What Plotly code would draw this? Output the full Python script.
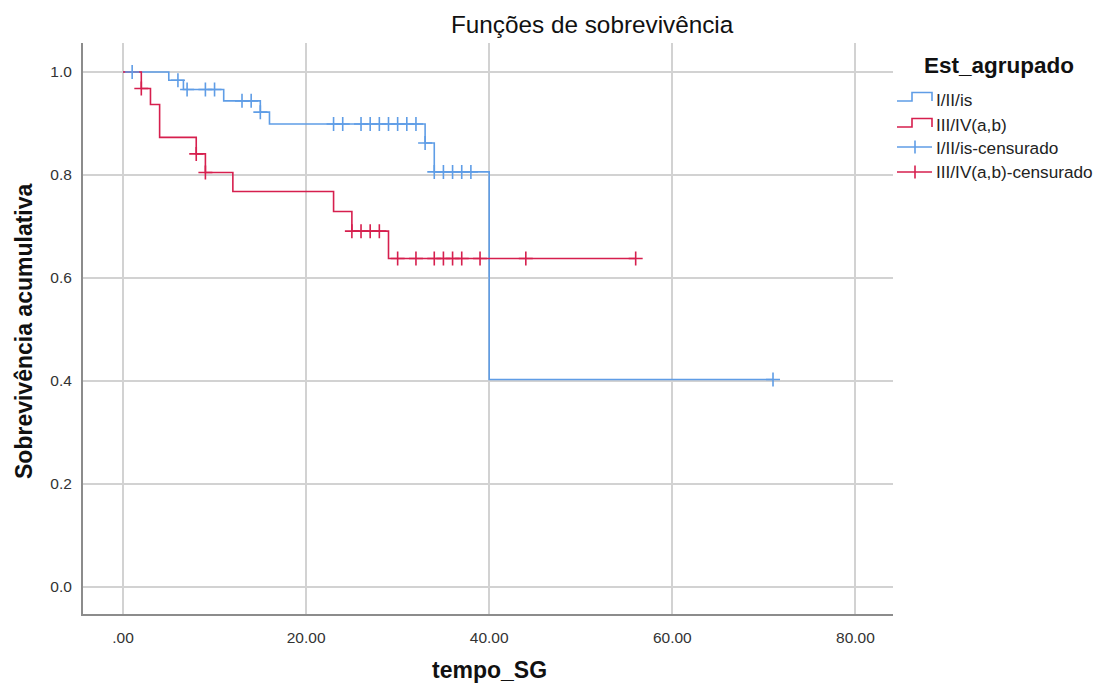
import plotly.graph_objects as go

# ---- data ----
# Group I/II/is : event times (step points) and survival after each step
blue_step_times = [0, 5, 6.6, 11, 15, 16, 33, 34, 40]
blue_surv = [1.0, 0.984, 0.966, 0.944, 0.922, 0.899, 0.862, 0.806, 0.403]
blue_end = 71
blue_censored = [1, 6, 7, 9, 10, 13, 14, 15, 23, 24, 26, 27, 28, 29, 30, 31, 32,
                 33, 34, 35, 36, 37, 38, 71]

# Group III/IV(a,b)
red_step_times = [0, 2, 3, 4, 8, 9, 12, 23, 25, 29]
red_surv = [1.0, 0.968, 0.937, 0.873, 0.841, 0.805, 0.768, 0.729, 0.691, 0.638]
red_end = 56
red_censored = [2, 8, 9, 25, 26, 27, 28, 30, 32, 34, 35, 36, 37, 39, 44, 56]

x_ticks = [0, 20, 40, 60, 80]
x_ticklabels = [".00", "20.00", "40.00", "60.00", "80.00"]
y_ticks = [0.0, 0.2, 0.4, 0.6, 0.8, 1.0]
y_ticklabels = ["0.0", "0.2", "0.4", "0.6", "0.8", "1.0"]

group_names = ["I/II/is", "III/IV(a,b)"]
legend_labels = ["I/II/is", "III/IV(a,b)", "I/II/is-censurado", "III/IV(a,b)-censurado"]

BLUE = "#5f9de6"
RED = "#d61f4e"
FONT = "Liberation Sans, Arial, sans-serif"

# ---- layout geometry (page pixels; body margin is removed below) ----
W, H = 1105, 688
L, R, T, B = 83, 893, 43, 614   # plot area in page pixels


def px(x):
    return (x - L) / (R - L)


def py(y):
    return (B - y) / (B - T)


def level_at(times, surv, t):
    v = surv[0]
    for tt, s in zip(times, surv):
        if tt <= t:
            v = s
    return v


fig = go.Figure()

for times, surv, end, color, name in [
    (blue_step_times, blue_surv, blue_end, BLUE, group_names[0]),
    (red_step_times, red_surv, red_end, RED, group_names[1]),
]:
    fig.add_trace(go.Scatter(
        x=list(times) + [end], y=list(surv) + [surv[-1]],
        mode="lines", line=dict(shape="hv", color=color, width=1.6),
        name=name, showlegend=False, hoverinfo="skip"))

for times, surv, cens, color, name in [
    (blue_step_times, blue_surv, blue_censored, BLUE, group_names[0] + "-censurado"),
    (red_step_times, red_surv, red_censored, RED, group_names[1] + "-censurado"),
]:
    fig.add_trace(go.Scatter(
        x=cens, y=[level_at(times, surv, t) for t in cens],
        mode="markers",
        marker=dict(symbol="cross-thin", size=10, color=color,
                    line=dict(color=color, width=1.6)),
        name=name, showlegend=False, hoverinfo="skip"))

# ---- custom legend (step icons + crosses) ----
shapes = []
annotations = []
leg_x0, leg_xm, leg_x1 = 897, 912, 932
icon_rows = [(101, 92.5, BLUE), (127, 118.5, RED)]
for (ylow, yhigh, color) in icon_rows:
    path = "M {a},{b} L {c},{b} L {c},{d} L {e},{d} L {e},{b}".format(
        a=px(leg_x0), b=py(ylow), c=px(leg_xm), d=py(yhigh), e=px(leg_x1))
    shapes.append(dict(type="path", xref="paper", yref="paper", path=path,
                       line=dict(color=color, width=1.6)))
for (yc, color) in [(147, BLUE), (172, RED)]:
    shapes.append(dict(type="line", xref="paper", yref="paper",
                       x0=px(leg_x0), x1=px(leg_x1), y0=py(yc), y1=py(yc),
                       line=dict(color=color, width=1.6)))
    shapes.append(dict(type="line", xref="paper", yref="paper",
                       x0=px(915), x1=px(915), y0=py(yc - 6.5), y1=py(yc + 6.5),
                       line=dict(color=color, width=1.6)))

for label, yc in zip(legend_labels, [100, 125, 148, 172]):
    annotations.append(dict(text=label, xref="paper", yref="paper",
                            x=px(934), y=py(yc), xanchor="left", yanchor="middle",
                            showarrow=False,
                            font=dict(family=FONT, size=17.2, color="#222222")))

annotations.append(dict(text="<b>Est_agrupado</b>", xref="paper", yref="paper",
                        x=px(999), y=py(65), xanchor="center", yanchor="middle",
                        showarrow=False, font=dict(family=FONT, size=22.5, color="#111111")))

# titles
annotations.append(dict(text="Funções de sobrevivência", xref="paper", yref="paper",
                        x=px(592), y=py(25), xanchor="center", yanchor="middle",
                        showarrow=False, font=dict(family=FONT, size=24.3, color="#111111")))
annotations.append(dict(text="<b>tempo_SG</b>", xref="paper", yref="paper",
                        x=px(489), y=py(670), xanchor="center", yanchor="middle",
                        showarrow=False, font=dict(family=FONT, size=23, color="#111111")))
annotations.append(dict(text="<b>Sobrevivência acumulativa</b>", xref="paper", yref="paper",
                        x=px(24), y=py(331), xanchor="center", yanchor="middle",
                        textangle=-90,
                        showarrow=False, font=dict(family=FONT, size=23, color="#111111")))

x_min = (L - 123) / 9.155
x_max = (R - 123) / 9.155
y_max = 1.0 + (72 - T) / 515.0
y_min = 0.0 - (B - 587) / 515.0

fig.update_layout(
    width=W, height=H,
    margin=dict(l=L, r=W - R, t=T, b=H - B, pad=0),
    paper_bgcolor="white", plot_bgcolor="white",
    font=dict(family=FONT, color="#333333"),
    showlegend=False,
    shapes=shapes, annotations=annotations,
    xaxis=dict(range=[x_min, x_max], tickvals=x_ticks, ticktext=x_ticklabels,
               showgrid=True, gridcolor="#d2d2d2", gridwidth=1.6,
               zeroline=False, showline=True, linecolor="#8c8c8c", linewidth=2,
               ticks="", ticklabelstandoff=8,
               tickfont=dict(family=FONT, size=15.5, color="#333333")),
    yaxis=dict(range=[y_min, y_max], tickvals=y_ticks, ticktext=y_ticklabels,
               showgrid=True, gridcolor="#d2d2d2", gridwidth=1.6,
               zeroline=False, showline=True, linecolor="#8c8c8c", linewidth=2,
               ticks="", ticklabelstandoff=6,
               tickfont=dict(family=FONT, size=15.5, color="#333333")),
)

fig.write_html(
    "out.html",
    config={"displayModeBar": False},
    post_script="document.body.style.margin='0px';document.body.style.overflow='hidden';",
)
